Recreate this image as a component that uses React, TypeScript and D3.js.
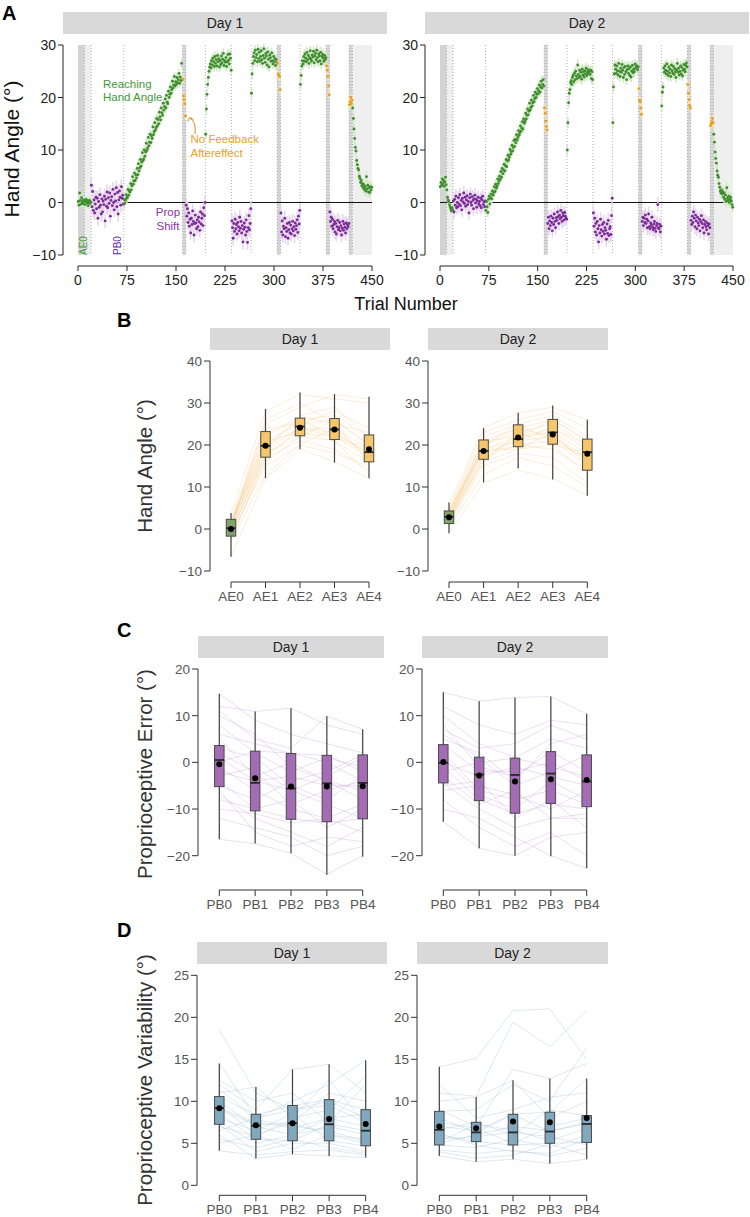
import React from 'react';
import * as d3 from 'd3';

const FONT = '"Liberation Sans", Arial, Helvetica, sans-serif';

// ---------- Panel A data ----------
const trialTicks = [0, 75, 150, 225, 300, 375, 450];
const handAngleTicksA = [-10, 0, 10, 20, 30];
const phaseStarts = [1, 21, 71, 161, 166, 196, 236, 266, 306, 311, 341, 381, 386, 416, 421];
const phaseTypes = ['reach', 'prop', 'reach', 'nf', 'prop', 'reach', 'prop', 'reach', 'nf', 'prop', 'reach', 'nf', 'prop', 'nf', 'reach'];
const dottedTrials = [10, 20, 70, 160, 165, 195, 235, 265, 305, 310, 340, 380, 385, 415, 420];
const darkBands = [[0, 10], [160, 165], [305, 310], [380, 385], [415, 420]];
const lightBands = [[10, 20], [420, 450]];

const day1Segments: number[][] = [
  [0.2, -0.5, 1.8, 0.4, -0.3, 0.9, 0.1, -0.2, 0.5, 0.3, -0.4, 0.2, 0.6, -0.1, 0.3, -0.6, 0.0, 0.4, -0.2, 0.1],
  [3.3, -0.8, 2.1, -1.5, 0.5, -2.0, -0.3, 1.0, -1.2, 0.8, -3.0, 0.2, -0.9, 1.5, -0.5, -2.2, 0.7, -1.8, 0.3, -0.4, 1.2, -3.5, 0.6, -0.7, 2.0, -1.0, 0.9, -0.2, 1.8, -2.6, 0.4, 1.1, -0.6, 2.5, 0.0, -1.4, 1.6, 0.3, 2.8, -0.8, 1.9, -2.2, 0.5, 2.2, 1.0, -0.5, 3.0, 0.8, 1.4, -0.3],
  [0.6, -0.2, 0.4, 1.5, 0.8, 1.0, 2.5, 1.4, 2.2, 2.0,
   3.6, 2.4, 3.2, 4.9, 3.5, 4.1, 5.6, 4.2, 5.3, 4.7,
   6.5, 5.3, 7.4, 6.0, 6.6, 8.2, 6.9, 7.7, 9.5, 8.0,
   8.3, 10.0, 8.8, 9.6, 11.3, 9.9, 10.4, 12.4, 10.8, 11.5,
   13.0, 11.4, 12.7, 12.2, 14.4, 12.9, 13.5, 15.2, 13.8, 14.3,
   16.0, 14.6, 15.8, 15.0, 17.2, 16.3, 15.7, 18.0, 17.1, 16.6,
   18.9, 17.6, 18.3, 19.7, 18.0, 20.4, 19.1, 18.8, 21.2, 20.0,
   20.6, 22.0, 20.8, 21.5, 23.1, 21.8, 22.4, 24.0, 22.2, 23.0,
   22.5, 23.8, 22.8, 23.4, 24.6, 22.7, 23.9, 23.2, 26.5, 23.4],
  [23.5, 20.3, 19.6, 18.8, 16.5],
  [-0.5, -2.6, -1.2, -3.8, -2.0, -4.5, -3.2, -5.8, -3.0, -4.2, -1.6, -3.6, -6.2, -4.0, -2.4, -3.9, -5.0, -3.3, -4.6, -2.8, -3.7, -5.3, -1.8, -4.1, -3.0, -2.2, -4.4, -1.0, -2.5, 0.0],
  [13.0, 17.8, 20.6, 22.5, 23.8, 25.0, 25.8, 26.4, 25.6, 27.0, 26.2, 27.5, 26.8, 25.9, 27.8, 26.5, 27.2, 26.0, 28.0, 26.8, 27.4, 25.8, 27.0, 26.3, 27.9, 26.6, 27.3, 28.4, 26.1, 27.0, 26.7, 27.6, 25.9, 26.8, 28.2, 27.1, 26.4, 28.3, 27.5, 25.2],
  [-3.5, -4.8, -6.8, -4.0, -5.5, -3.2, -5.0, -4.2, -6.0, -3.8, -4.6, -5.4, -2.8, -4.9, -3.6, -5.8, -4.4, -7.5, -5.1, -3.9, -4.7, -6.2, -3.3, -5.5, -7.6, -4.8, -2.5, -5.2, -4.0, -1.2],
  [20.8, 24.5, 26.5, 27.8, 28.5, 27.0, 29.0, 27.6, 28.2, 26.8, 29.2, 27.4, 28.6, 26.9, 27.8, 28.9, 27.2, 26.5, 28.0, 29.3, 27.5, 26.7, 28.4, 27.9, 26.2, 28.7, 27.3, 25.8, 28.1, 27.6, 26.9, 28.5, 27.0, 26.4, 27.8, 26.8, 27.4, 26.1, 27.2, 26.6],
  [26.5, 24.5, 24.2, 24.0, 21.5],
  [-2.0, -5.6, -3.5, -6.2, -4.5, -5.0, -3.0, -6.5, -4.8, -5.5, -4.0, -6.8, -5.2, -3.8, -5.8, -4.3, -6.0, -5.0, -3.6, -5.4, -4.6, -6.3, -3.9, -5.1, -4.4, -3.3, -5.7, -2.6, -4.1, -1.5],
  [22.5, 24.2, 26.0, 27.0, 26.4, 27.8, 26.9, 28.3, 27.5, 26.8, 28.6, 27.2, 28.0, 26.5, 27.6, 28.9, 27.3, 26.9, 28.1, 27.7, 28.8, 26.6, 27.9, 28.4, 27.2, 29.0, 27.6, 26.8, 28.3, 27.9, 27.0, 28.6, 26.4, 27.8, 28.2, 27.5, 26.9, 28.0, 27.3, 27.6],
  [26.0, 25.2, 24.0, 22.2, 20.5],
  [-1.8, -3.6, -2.8, -4.5, -3.2, -5.0, -4.2, -3.6, -5.6, -4.0, -6.0, -4.6, -3.4, -5.2, -4.8, -3.8, -5.4, -4.4, -6.2, -4.9, -3.6, -5.3, -4.1, -4.7, -5.8, -3.9, -5.0, -4.3, -4.6, -4.0],
  [18.6, 19.2, 20.0, 18.8, 19.5],
  [18.0, 16.0, 14.0, 12.2, 10.5, 9.8, 8.0, 7.2, 6.5, 6.2, 5.0, 4.6, 3.8, 4.2, 3.2, 3.6, 2.8, 3.4, 2.5, 3.0, 2.2, 4.9, 2.6, 3.3, 2.0, 2.8, 1.9, 3.0, 2.4, 2.9],
];

const day2Segments: number[][] = [
  [3.0, 3.8, 3.3, 4.5, 3.6, 4.2, 3.1, 3.9, 4.8, 3.4, 2.4, 1.0, 0.5, 0.2, -0.4, -0.8, -1.2, -1.6, -1.0, -1.4],
  [0.3, -1.8, 0.6, -0.5, 1.2, -1.0, 0.0, -0.8, 0.9, -0.3, 1.5, -0.6, 0.4, -1.4, 0.8, 0.1, 1.8, -0.2, 1.0, -0.7, 0.5, 1.3, -0.4, 0.2, -2.0, 0.9, 1.6, 0.0, -0.5, 1.1, 0.4, -1.2, 0.7, 1.4, -0.1, 0.6, -0.9, 0.3, 1.0, -0.3, 0.2, -0.6, 0.8, -1.0, 0.5, 1.2, -0.4, 0.1, -0.8, 0.3],
  [-1.5, 0.2, -0.8, -1.9, 0.6, 1.2, -0.3, 0.9, 1.6, 0.7,
   2.2, 1.4, 1.9, 3.0, 2.1, 3.5, 2.7, 3.1, 4.5, 3.6,
   4.1, 5.0, 4.4, 5.9, 4.8, 6.5, 5.5, 6.2, 7.3, 6.0,
   7.0, 8.2, 6.8, 7.9, 9.0, 8.1, 8.6, 10.1, 9.2, 9.7,
   10.9, 9.8, 10.5, 11.8, 10.7, 12.0, 11.4, 12.9, 11.9, 12.4,
   13.7, 12.8, 13.3, 14.6, 13.6, 14.2, 15.4, 14.0, 15.9, 15.1,
   15.5, 17.0, 15.9, 16.6, 17.8, 16.7, 17.4, 18.9, 17.6, 18.1,
   19.5, 18.4, 19.0, 20.4, 19.2, 19.8, 21.0, 20.0, 20.6, 21.7,
   20.7, 21.3, 22.4, 21.0, 22.0, 23.1, 21.8, 22.5, 23.4, 22.2],
  [18.0, 17.0, 15.5, 14.5, 13.8],
  [-4.0, -2.8, -5.0, -3.5, -4.4, -2.6, -3.8, -5.4, -3.0, -4.2, -2.2, -3.6, -4.8, -2.9, -3.4, -1.8, -2.7, -4.0, -2.4, -3.1, -1.5, -2.8, -3.6, -2.0, -2.5, -3.3, -1.9, -2.6, -3.0, -3.2],
  [10.0, 15.2, 19.0, 20.8, 21.5, 22.8, 23.2, 22.5, 23.8, 24.2, 23.0, 24.6, 23.4, 25.0, 24.1, 23.6, 26.2, 24.4, 23.8, 25.2, 24.0, 24.8, 23.5, 25.4, 24.3, 24.9, 23.9, 25.1, 24.5, 25.6, 24.2, 24.8, 25.3, 24.6, 25.0, 24.4, 25.2, 23.6, 24.9, 23.4],
  [-2.0, -4.5, -3.0, -5.6, -4.0, -6.2, -3.6, -5.0, -7.5, -4.4, -5.8, -3.2, -5.2, -6.4, -4.2, -5.5, -3.8, -6.0, -4.8, -5.3, -7.0, -4.1, -5.9, -3.4, -6.3, -5.0, -4.6, -6.1, -2.5, 0.8],
  [15.2, 22.0, 24.5, 26.2, 25.4, 24.6, 26.0, 25.1, 24.3, 26.5, 25.0, 24.0, 25.6, 24.8, 26.3, 25.2, 23.8, 25.7, 24.4, 25.9, 24.9, 23.4, 25.3, 26.0, 24.6, 25.5, 24.2, 25.8, 23.9, 25.0, 26.1, 24.7, 25.4, 24.9, 26.4, 25.6, 25.9, 26.0, 25.3, 25.8],
  [21.7, 19.5, 19.2, 18.0, 16.8],
  [-3.6, -2.8, -4.4, -3.0, -3.8, -2.4, -4.0, -3.2, -4.8, -3.5, -2.2, -4.6, -5.0, -3.9, -4.3, -2.8, -4.7, -5.2, -4.1, -3.6, -4.9, -5.5, -4.4, -4.0, -0.4, -4.8, -5.0, -4.2, -5.6, -4.5],
  [18.4, 21.0, 22.0, 25.6, 24.8, 26.0, 25.2, 24.5, 26.4, 25.0, 24.2, 25.8, 24.7, 25.4, 24.0, 26.2, 25.1, 24.6, 25.9, 24.4, 25.5, 24.9, 23.8, 25.3, 26.5, 24.8, 25.6, 24.3, 25.0, 26.0, 24.5, 25.7, 24.1, 25.2, 26.3, 25.4, 24.9, 26.1, 26.6, 25.8],
  [22.5, 20.8, 19.6, 18.5, 18.0],
  [-3.4, -4.2, -2.6, -3.8, -1.8, -3.0, -4.6, -2.4, -3.5, -5.0, -2.8, -3.9, -4.4, -3.2, -5.4, -3.6, -2.5, -4.0, -4.8, -3.3, -5.8, -4.2, -3.6, -4.6, -5.2, -3.9, -4.4, -6.0, -4.1, -4.8],
  [14.6, 15.0, 15.4, 16.0, 15.2],
  [13.0, 11.5, 9.6, 8.4, 7.5, 6.0, 5.2, 4.8, 3.6, 2.9, 2.2, 1.8, 2.4, 1.6, 2.0, 1.0, 1.8, 0.6, 1.4, 0.2, 2.8, 0.8, 0.4, 1.2, 0.0, 0.6, 1.0, 0.3, -0.4, -0.9],
];

const day1SE = [0.7, 1.4, 0.9, 0.8, 1.3, 1.0, 1.4, 1.0, 0.8, 1.4, 1.0, 0.8, 1.4, 0.8, 1.0];
const day2SE = [0.7, 1.3, 0.9, 0.8, 1.3, 1.0, 1.4, 1.0, 0.8, 1.4, 1.0, 0.8, 1.4, 0.8, 1.0];

// ---------- Panels B–D data ----------
const aeCats = ['AE0', 'AE1', 'AE2', 'AE3', 'AE4'];
const pbCats = ['PB0', 'PB1', 'PB2', 'PB3', 'PB4'];
const bTicks = [-10, 0, 10, 20, 30, 40];
const cTicks = [-20, -10, 0, 10, 20];
const dTicks = [0, 5, 10, 15, 20, 25];

// [whiskerLow, q1, median, q3, whiskerHigh, mean]
const bDay1Stats = [
  [-6.6, -1.7, 0.2, 2.3, 3.8, 0.0],
  [12.1, 17.1, 19.8, 23.2, 28.6, 19.8],
  [19.0, 22.2, 24.4, 26.4, 32.5, 24.1],
  [15.8, 21.3, 23.7, 26.3, 32.1, 23.7],
  [12.1, 16.0, 18.3, 22.4, 31.5, 19.0],
];
const bDay2Stats = [
  [-1.0, 1.3, 2.9, 4.3, 6.3, 2.8],
  [11.1, 16.6, 18.6, 21.2, 24.0, 18.6],
  [14.4, 19.6, 21.4, 24.8, 27.7, 21.8],
  [11.8, 20.2, 23.0, 26.1, 29.4, 22.5],
  [7.9, 14.0, 18.3, 21.4, 26.0, 17.9],
];
const cDay1Stats = [
  [-16.5, -5.2, 0.5, 3.6, 14.7, -0.4],
  [-17.4, -10.4, -4.4, 2.4, 10.9, -3.4],
  [-19.5, -12.2, -5.6, 1.9, 11.6, -5.2],
  [-24.1, -12.7, -4.5, 1.5, 9.9, -5.2],
  [-20.2, -12.1, -4.4, 1.6, 7.1, -5.1],
];
const cDay2Stats = [
  [-12.7, -4.4, -0.1, 3.8, 15.0, 0.1],
  [-18.4, -8.2, -2.6, 1.1, 13.1, -2.8],
  [-20.0, -10.9, -2.7, 0.9, 13.9, -4.1],
  [-20.1, -8.8, -2.4, 2.3, 14.1, -3.6],
  [-22.7, -9.5, -4.1, 1.6, 10.4, -3.8],
];
const dDay1Stats = [
  [4.1, 7.26, 9.2, 10.56, 14.5, 9.17],
  [3.2, 5.48, 7.1, 8.45, 11.7, 7.14],
  [3.7, 5.3, 7.4, 9.5, 13.8, 7.4],
  [3.5, 5.3, 7.26, 10.2, 14.4, 7.9],
  [3.3, 4.7, 6.5, 9.0, 14.9, 7.3],
];
const dDay2Stats = [
  [3.5, 4.8, 6.6, 8.8, 14.1, 7.0],
  [2.8, 5.2, 6.3, 7.5, 10.5, 6.8],
  [3.1, 4.8, 6.3, 8.45, 12.5, 7.6],
  [2.6, 5.0, 6.4, 8.7, 12.7, 7.5],
  [3.1, 5.1, 7.3, 8.3, 12.7, 8.0],
];

const bDay1Subjects = [
  [0.5, 20, 24, 24, 19], [-1, 18, 23, 22, 17], [2, 23, 26, 27, 22], [-2, 16, 22, 21, 16],
  [1, 21, 25, 26, 20], [3.8, 28, 32, 31, 30], [-6.5, 12, 19, 16, 12], [0, 19, 24, 23, 18],
  [1.5, 22, 27, 25, 23], [-0.5, 17, 21, 19, 14], [2.5, 25, 29, 32, 31], [-1.5, 15, 20, 18, 15],
  [0.8, 24, 25, 28, 24], [-3, 13, 20, 24, 17], [1.2, 20, 26, 22, 19], [-0.8, 18, 22, 26, 20],
  [0.3, 26, 30, 25, 16], [2, 21, 23, 21, 13], [-2.5, 17, 24, 22, 18], [0.6, 19, 27, 29, 22],
];
const bDay2Subjects = [
  [3, 19, 22, 23, 18], [1.5, 17, 20, 21, 15], [4, 21, 24, 26, 21], [2, 16, 19, 20, 13],
  [6, 24, 27.7, 29, 26], [-1, 11, 14, 12, 8], [3.5, 20, 23, 25, 20], [2.5, 18, 21, 22, 17],
  [1, 15, 18, 17, 11], [4.5, 22, 25, 27, 22], [2.8, 19, 21, 24, 19], [3.2, 20, 24, 22, 16],
  [0.5, 13, 17, 15, 10], [5, 23, 26, 28, 24], [2.2, 18, 20, 19, 14], [3.8, 21, 22, 26, 21],
  [1.8, 16, 23, 20, 18], [4.2, 19, 19, 23, 15], [2.6, 17, 22, 24, 20], [3, 20, 25, 21, 17],
];
const cDay1Subjects = [
  [14.7, 9, 6, 4, 2], [12, 10.9, 11.6, 8, 6], [11, 5, 3, 9.9, 7.1], [8, 2, -2, 1, -1],
  [5, -3, 0, -4, -6], [3, 1, -5, -8, -3], [1, -4, -6, -3, 1], [0, 2.4, 2, 0, -4],
  [-1, -6, -10, -12, -9], [-2, -4, -3, -5, -5], [-4, -10, -12, -13, -12], [-5, -8, -4, -2, 1.6],
  [-7, -12, -15, -18, -14], [-10, -11, -13, -12, -15], [-12, -14, -16, -20, -18], [-16.5, -17.4, -19.5, -24, -20],
  [6, 4, 1.9, 1.5, -2], [-3, -1, -6, -9, -12], [2, -2, -9, -6, -4], [-8, -10, -8, -14, -10],
  [10, 6, -1, -4, -8], [-6, -15, -18, -16, -17],
];
const cDay2Subjects = [
  [15, 13.1, 13.9, 14.1, 10.4], [12, 8, 6, 9, 8], [10, 4, 1, 5, 3], [8, -1, -3, 2.3, -2],
  [6, 1, -5, -2, 1.6], [3.8, -2, -2, 0, -4], [2, -6, -8, -6, -9], [0, -3, -1, -3, -5],
  [-1, -8, -11, -9, -10], [-2, 0, 0.9, -1, -3], [-4.4, -10, -14, -12, -11], [-6, -5, -7, -10, -6],
  [-8, -14, -18, -15, -20], [-10, -12, -16, -20, -22.7], [-12.7, -18.4, -20, -16, -15], [5, 2, -4, 4, 6],
  [1, -7, -10, -4, -8], [-3, -9, -6, -12, -12], [7, 3, 4, 8, 5], [-5, -4, -12, -8, -14],
];
const dDay1Subjects = [
  [18.5, 11, 9, 10, 8], [14.5, 8, 10, 12, 14.9], [12, 9, 13.8, 14.4, 11], [11, 11.7, 8, 9, 13],
  [10.5, 8.4, 9.5, 10.2, 9], [10, 7, 6, 8, 7], [9.5, 6, 7.5, 11, 10], [9, 7.2, 7.4, 6, 5],
  [8.5, 5.5, 5.3, 7.3, 6.5], [8, 6.5, 8.5, 5.3, 4.7], [7.5, 5, 6, 7, 6], [7.2, 4, 5, 5, 4],
  [6.5, 8, 9, 9.5, 7.5], [6, 3.2, 3.7, 3.5, 3.3], [5.5, 4.5, 5.5, 4.5, 3.8], [5, 6, 4.3, 6, 5.5],
  [4.1, 3.6, 4, 4.2, 3.6], [9.2, 7.5, 6.8, 8, 8.5], [12.5, 10, 11, 7.5, 12], [7, 5.8, 8, 12.6, 7.2],
  [11.5, 7.8, 7, 6.5, 5.2],
];
const dDay2Subjects = [
  [14.1, 15.1, 20.8, 21, 15], [11, 10.6, 19.4, 16.5, 20.8], [8.8, 9, 12, 10, 16.4], [9, 7, 13.8, 12.7, 14.5],
  [7, 6.5, 8.5, 8.7, 12.7], [6.6, 7.5, 6, 9, 8.3], [6, 5.2, 4.8, 5, 5.1], [5, 6, 7, 6.5, 7.3],
  [4.8, 4.5, 5.5, 4.5, 6], [3.5, 2.8, 3.1, 2.6, 3.1], [8, 6.3, 8.4, 6.4, 7.5], [5.5, 5.8, 6.3, 5.8, 4.8],
  [4.2, 3.8, 4.2, 3.5, 4.4], [10, 10.5, 12.5, 8, 10], [7.5, 6.8, 5, 7, 8], [6.2, 4.8, 4, 3.8, 5.5],
  [12, 8, 9, 10.5, 11], [5.2, 7.2, 6.6, 5.3, 6.8], [4, 3.2, 3.6, 4.9, 3.6],
];

// ---------- helpers ----------
const fmt = (v: number) => (v < 0 ? '\u2212' + Math.abs(v) : String(v));
const pointColor: Record<string, string> = { reach: '#3f8d2e', prop: '#7b2b96', nf: '#e3a11d' };
const errColor: Record<string, string> = { reach: '#d2e9c8', prop: '#e8d6ef', nf: '#f6e2b6' };

function Strip({ x0, x1, y0, y1, label }: any) {
  return (
    <g>
      <rect x={x0} y={y0} width={x1 - x0} height={y1 - y0} fill="#d9d9d9" />
      <text x={(x0 + x1) / 2} y={(y0 + y1) / 2 + 5} textAnchor="middle" fontSize={14} fill="#222" fontFamily={FONT}>
        {label}
      </text>
    </g>
  );
}

function TrialPanel({ segs, se, axisX, xr, strip, label, annotate }: any) {
  const x = d3.scaleLinear().domain([0, 450]).range(xr);
  const y = d3.scaleLinear().domain([-10, 30]).range([255, 45]);
  const top = y(30);
  const bot = y(-10);
  const pts: any[] = [];
  segs.forEach((vals: number[], si: number) => {
    vals.forEach((v, i) => {
      pts.push({ t: phaseStarts[si] + i, v, type: phaseTypes[si], se: se[si] });
    });
  });
  const axisY = 266;
  return (
    <g>
      <Strip x0={strip[0]} x1={strip[1]} y0={12} y1={34} label={label} />
      {lightBands.map((b, i) => (
        <rect key={'lb' + i} x={x(b[0])} y={top} width={x(b[1]) - x(b[0])} height={bot - top} fill="#efefef" />
      ))}
      {darkBands.map((b, i) => (
        <rect key={'db' + i} x={x(b[0])} y={top} width={x(b[1]) - x(b[0])} height={bot - top} fill="#d3d3d3" />
      ))}
      {dottedTrials.map((t) => (
        <line key={'dl' + t} x1={x(t)} x2={x(t)} y1={top} y2={bot} stroke="#9a9a9a" strokeWidth={0.8} strokeDasharray="1,2" />
      ))}
      <line x1={x(0)} x2={x(450)} y1={y(0)} y2={y(0)} stroke="#111" strokeWidth={1.2} />
      {pts.map((p, i) => (
        <line key={'e' + i} x1={x(p.t - 0.5)} x2={x(p.t - 0.5)} y1={y(p.v - p.se)} y2={y(p.v + p.se)} stroke={errColor[p.type]} strokeWidth={1.6} />
      ))}
      {pts.map((p, i) => (
        <circle key={'p' + i} cx={x(p.t - 0.5)} cy={y(p.v)} r={1.45} fill={pointColor[p.type]} />
      ))}
      {/* y axis */}
      <line x1={axisX} x2={axisX} y1={top} y2={bot} stroke="#222" strokeWidth={1} />
      {handAngleTicksA.map((t) => (
        <g key={'yt' + t}>
          <line x1={axisX - 5} x2={axisX} y1={y(t)} y2={y(t)} stroke="#222" />
          <text x={axisX - 7} y={y(t) + 5} textAnchor="end" fontSize={14} fill="#222" fontFamily={FONT}>{fmt(t)}</text>
        </g>
      ))}
      {/* x axis */}
      <line x1={x(0)} x2={x(450)} y1={axisY} y2={axisY} stroke="#222" strokeWidth={1} />
      {trialTicks.map((t) => (
        <g key={'xt' + t}>
          <line x1={x(t)} x2={x(t)} y1={axisY} y2={axisY + 5} stroke="#222" />
          <text x={x(t)} y={axisY + 19} textAnchor="middle" fontSize={14} fill="#222" fontFamily={FONT}>{t}</text>
        </g>
      ))}
      {annotate && (
        <g fontFamily={FONT} fontSize={11.5}>
          <text x={103} y={87.5} fill="#3f9a36">Reaching</text>
          <text x={103} y={101} fill="#3f9a36">Hand Angle</text>
          <text x={190.5} y={143} fill="#eea11f">No Feedback</text>
          <text x={190.5} y={157} fill="#eea11f">Aftereffect</text>
          <path d="M195,134 Q196.5,122 190,118" fill="none" stroke="#e08a16" strokeWidth={1} />
          <path d="M187.6,121.6 L189.6,117.6 L193.6,119.4" fill="none" stroke="#e08a16" strokeWidth={1} />
          <text x={168} y={215.5} textAnchor="middle" fill="#8a35a6">Prop</text>
          <text x={168} y={229.5} textAnchor="middle" fill="#8a35a6">Shift</text>
          <text transform={`translate(${x(13.3)},${bot}) rotate(-90)`} fontSize={10} fill="#3f9a36">AE0</text>
          <text transform={`translate(${x(66)},${bot}) rotate(-90)`} fontSize={10} fill="#5b2ea0">PB0</text>
        </g>
      )}
    </g>
  );
}

function BoxPanel({ cats, stats, subjects, domain, ticks, yr, xr, axisX, axisY, strip, label, fills, lineColor, lineOpacity }: any) {
  const x = d3.scalePoint<string>().domain(cats).range(xr);
  const y = d3.scaleLinear().domain(domain).range(yr);
  const line = d3.line<number>().x((_, i) => x(cats[i]) as number).y((v) => y(v));
  const bw = 9.5;
  return (
    <g fontFamily={FONT}>
      <Strip x0={strip[0]} x1={strip[1]} y0={strip[2]} y1={strip[3]} label={label} />
      {subjects.map((s: number[], i: number) => (
        <path key={'s' + i} d={line(s) as string} fill="none" stroke={lineColor} strokeWidth={0.8} strokeOpacity={lineOpacity} />
      ))}
      {stats.map((st: number[], i: number) => {
        const cx = x(cats[i]) as number;
        return (
          <g key={'b' + i}>
            <line x1={cx} x2={cx} y1={y(st[0])} y2={y(st[4])} stroke="#3d3d3d" strokeWidth={1.2} />
            <rect x={cx - bw / 2} y={y(st[3])} width={bw} height={y(st[1]) - y(st[3])} fill={fills[i]} stroke="#4a4a4a" strokeWidth={1} />
            <line x1={cx - bw / 2} x2={cx + bw / 2} y1={y(st[2])} y2={y(st[2])} stroke="#2a2a2a" strokeWidth={1.8} />
            <circle cx={cx} cy={y(st[5])} r={3} fill="#000" />
          </g>
        );
      })}
      <line x1={axisX} x2={axisX} y1={y(ticks[0])} y2={y(ticks[ticks.length - 1])} stroke="#333" strokeWidth={1} />
      {ticks.map((t: number) => (
        <g key={'t' + t}>
          <line x1={axisX - 6} x2={axisX} y1={y(t)} y2={y(t)} stroke="#333" />
          <text x={axisX - 8} y={y(t) + 5} textAnchor="end" fontSize={13.5} fill="#555">{fmt(t)}</text>
        </g>
      ))}
      <line x1={xr[0]} x2={xr[1]} y1={axisY} y2={axisY} stroke="#333" strokeWidth={1} />
      {cats.map((c: string) => (
        <g key={c}>
          <line x1={x(c)} x2={x(c)} y1={axisY} y2={axisY + 6} stroke="#333" />
          <text x={x(c)} y={axisY + 19} textAnchor="middle" fontSize={13.5} fill="#555">{c}</text>
        </g>
      ))}
    </g>
  );
}

export default function App() {
  const orange = ['#7fa36b', '#f5c66c', '#f5c66c', '#f5c66c', '#f5c66c'];
  const purple = ['#a56cb6', '#a56cb6', '#a56cb6', '#a56cb6', '#a56cb6'];
  const blue = ['#80a8bf', '#80a8bf', '#80a8bf', '#80a8bf', '#80a8bf'];
  return (
    <svg width={750} height={1217} style={{ position: 'absolute', left: 0, top: 0, background: '#fff' }} fontFamily={FONT}>
      <rect width={750} height={1217} fill="#fff" />
      {/* Panel A */}
      <text x={2} y={20} fontSize={20} fontWeight="bold" fill="#000">A</text>
      <TrialPanel segs={day1Segments} se={day1SE} axisX={63} xr={[78, 372]} strip={[63, 387]} label="Day 1" annotate />
      <TrialPanel segs={day2Segments} se={day2SE} axisX={425} xr={[440, 733]} strip={[425, 749]} label="Day 2" />
      <text transform="translate(18.5,149) rotate(-90)" textAnchor="middle" fontSize={21} fill="#111">Hand Angle (°)</text>
      <text x={406} y={310} textAnchor="middle" fontSize={18} fill="#111">Trial Number</text>

      {/* Panel B */}
      <text x={117} y={327} fontSize={20} fontWeight="bold" fill="#000">B</text>
      <text transform="translate(152,466) rotate(-90)" textAnchor="middle" fontSize={20.5} fill="#333">Hand Angle (°)</text>
      <BoxPanel cats={aeCats} stats={bDay1Stats} subjects={bDay1Subjects} domain={[-10, 40]} ticks={bTicks} yr={[571, 361]}
        xr={[231, 369]} axisX={210} axisY={582} strip={[210, 390, 328, 350]} label="Day 1"
        fills={orange} lineColor="#f3c27a" lineOpacity={0.35} />
      <BoxPanel cats={aeCats} stats={bDay2Stats} subjects={bDay2Subjects} domain={[-10, 40]} ticks={bTicks} yr={[571, 361]}
        xr={[449, 587.3]} axisX={428} axisY={582} strip={[428, 608, 328, 350]} label="Day 2"
        fills={orange} lineColor="#f3c27a" lineOpacity={0.35} />

      {/* Panel C */}
      <text x={117} y={637} fontSize={20} fontWeight="bold" fill="#000">C</text>
      <text transform="translate(152,774) rotate(-90)" textAnchor="middle" fontSize={20.5} fill="#333">Proprioceptive Error (°)</text>
      <BoxPanel cats={pbCats} stats={cDay1Stats} subjects={cDay1Subjects} domain={[-20, 20]} ticks={cTicks} yr={[855.7, 669]}
        xr={[219.3, 362.7]} axisX={198} axisY={890} strip={[198, 384, 636, 658]} label="Day 1"
        fills={purple} lineColor="#c9a2d8" lineOpacity={0.45} />
      <BoxPanel cats={pbCats} stats={cDay2Stats} subjects={cDay2Subjects} domain={[-20, 20]} ticks={cTicks} yr={[855.7, 669]}
        xr={[443.3, 586.7]} axisX={422} axisY={890} strip={[422, 608, 636, 658]} label="Day 2"
        fills={purple} lineColor="#c9a2d8" lineOpacity={0.45} />

      {/* Panel D */}
      <text x={117} y={937} fontSize={20} fontWeight="bold" fill="#000">D</text>
      <text transform="translate(152,1080) rotate(-90)" textAnchor="middle" fontSize={20.5} fill="#333">Proprioceptive Variability (°)</text>
      <BoxPanel cats={pbCats} stats={dDay1Stats} subjects={dDay1Subjects} domain={[0, 25]} ticks={dTicks} yr={[1185.3, 975.3]}
        xr={[219.3, 365.7]} axisX={197} axisY={1195.3} strip={[197, 387, 942, 964]} label="Day 1"
        fills={blue} lineColor="#a9c9d9" lineOpacity={0.5} />
      <BoxPanel cats={pbCats} stats={dDay2Stats} subjects={dDay2Subjects} domain={[0, 25]} ticks={dTicks} yr={[1185.3, 975.3]}
        xr={[439.3, 586.7]} axisX={417} axisY={1195.3} strip={[417, 608, 942, 964]} label="Day 2"
        fills={blue} lineColor="#a9c9d9" lineOpacity={0.5} />
    </svg>
  );
}
